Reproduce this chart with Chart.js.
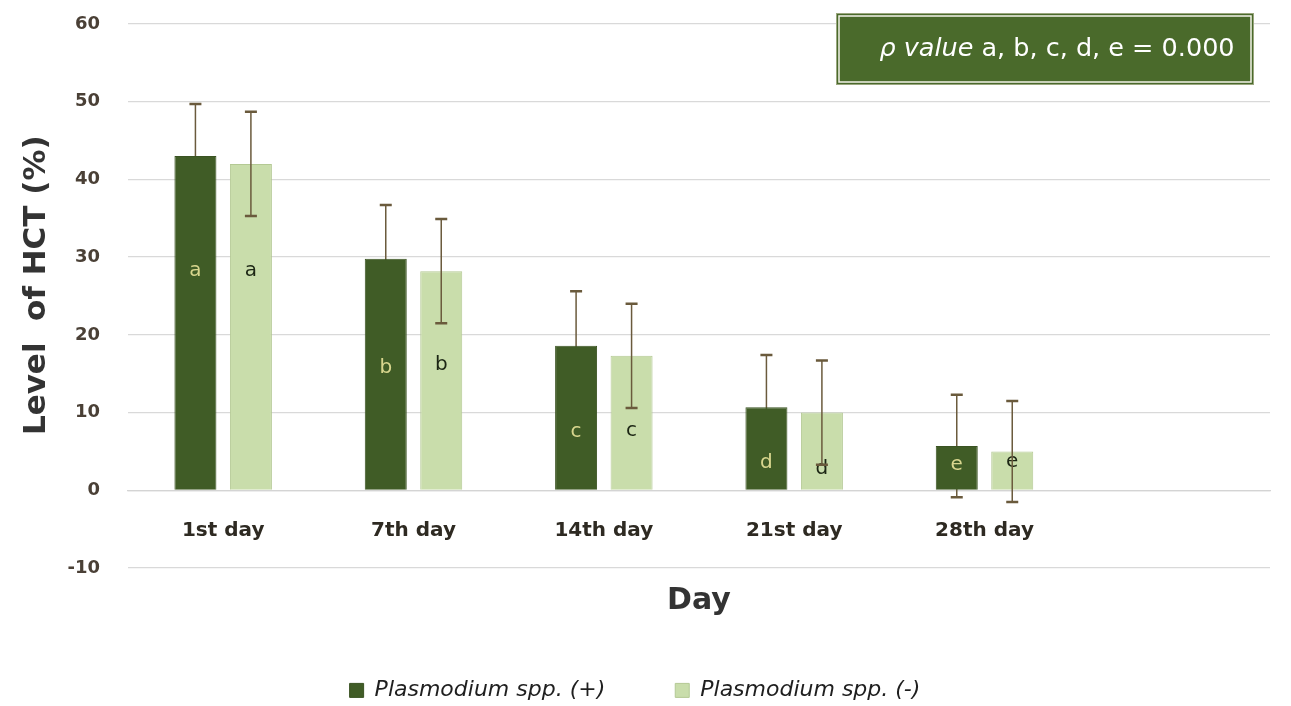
<!DOCTYPE html>
<html>
<head>
<meta charset="utf-8">
<script src="https://cdn.jsdelivr.net/npm/chart.js@4.4.1/dist/chart.umd.min.js"></script>
<style>
  html, body { margin: 0; padding: 0; background: #fff; }
  #hct { display: block; }
</style>
</head>
<body>
<canvas id="hct" width="1291" height="706"></canvas>
<script>
// categories (last one is an empty slot, as in the original plot)
const days = ['1st day', '7th day', '14th day', '21st day', '28th day', ''];

// mean HCT (%) per group
const positiveMean = [43.0, 29.8, 18.6, 10.7, 5.7];
const negativeMean = [42.0, 28.2, 17.3, 10.0, 5.0];

// standard deviation (error bars)
const positiveSD = [6.7, 6.9, 7.0, 6.7, 6.6];
const negativeSD = [6.7, 6.7, 6.7, 6.7, 6.5];

// significance letters and the value where they sit inside the bars
const letters = ['a', 'b', 'c', 'd', 'e'];
const positiveLetterAt = [28.3, 15.8, 7.5, 3.6, 3.3];
const negativeLetterAt = [28.3, 16.2, 7.7, 2.8, 3.7];

const yTicks = [-10, 0, 10, 20, 30, 40, 50, 60];

const darkGreen = '#405c26';
const lightGreen = '#c9ddab';

const ctx = document.getElementById('hct');

function drawErrorBars(chart, i, sd) {
  const c = chart.ctx;
  const y = chart.scales.y;
  const values = chart.data.datasets[i].data;
  chart.getDatasetMeta(i).data.forEach((bar, j) => {
    if (values[j] == null) return;
    const top = y.getPixelForValue(values[j] + sd[j]);
    const bot = y.getPixelForValue(values[j] - sd[j]);
    c.save();
    c.strokeStyle = '#6a5a3c';
    c.lineWidth = 1.5;
    c.beginPath();
    c.moveTo(bar.x, top);
    c.lineTo(bar.x, bot);
    c.stroke();
    c.lineWidth = 2.5;
    c.beginPath();
    c.moveTo(bar.x - 6, top); c.lineTo(bar.x + 6, top);
    c.moveTo(bar.x - 6, bot); c.lineTo(bar.x + 6, bot);
    c.stroke();
    c.restore();
  });
}

function drawLetters(chart, i, at, color) {
  const c = chart.ctx;
  const y = chart.scales.y;
  const values = chart.data.datasets[i].data;
  chart.getDatasetMeta(i).data.forEach((bar, j) => {
    if (values[j] == null) return;
    c.save();
    c.font = '20px "DejaVu Sans"';
    c.fillStyle = color;
    c.textAlign = 'center';
    c.textBaseline = 'middle';
    c.fillText(letters[j], bar.x, y.getPixelForValue(at[j]));
    c.restore();
  });
}

// error bars of the dark series sit behind the bars, the light ones on top
const barExtras = {
  id: 'barExtras',
  beforeDatasetsDraw(chart) {
    drawErrorBars(chart, 0, positiveSD);
  },
  afterDatasetsDraw(chart) {
    drawLetters(chart, 0, positiveLetterAt, '#d8d68e');
    drawLetters(chart, 1, negativeLetterAt, '#1c2614');
    drawErrorBars(chart, 1, negativeSD);
  }
};

// the p value box in the upper right
const pBox = {
  id: 'pBox',
  afterDraw(chart) {
    const c = chart.ctx;
    const x = 836, yy = 13, w = 418, h = 72;
    c.save();
    c.fillStyle = '#4a6a2b';
    c.fillRect(x, yy, w, h);
    c.strokeStyle = '#9aa67e';
    c.lineWidth = 1;
    c.strokeRect(x + 0.5, yy + 0.5, w - 1, h - 1);
    c.strokeStyle = '#f4f4ea';
    c.lineWidth = 1.5;
    c.strokeRect(x + 3, yy + 3, w - 6, h - 6);

    const italic = 'italic 25.5px "DejaVu Sans"';
    const normal = '25.5px "DejaVu Sans"';
    const t1 = 'ρ value';
    const t2 = ' a, b, c, d, e = 0.000';
    c.font = italic;
    const w1 = c.measureText(t1).width;
    c.font = normal;
    const w2 = c.measureText(t2).width;
    const sx = x + w / 2 + 12 - (w1 + w2) / 2;
    c.fillStyle = '#ffffff';
    c.textBaseline = 'middle';
    c.textAlign = 'left';
    c.font = italic;
    c.fillText(t1, sx, yy + h / 2);
    c.font = normal;
    c.fillText(t2, sx + w1, yy + h / 2);
    c.restore();
  }
};

new Chart(ctx, {
  type: 'bar',
  data: {
    labels: days,
    datasets: [
      {
        label: 'Plasmodium spp. (+)',
        data: positiveMean,
        backgroundColor: darkGreen,
        borderColor: '#3a5322',
        borderWidth: 1
      },
      {
        label: 'Plasmodium spp. (-)',
        data: negativeMean,
        backgroundColor: lightGreen,
        borderColor: '#b4c994',
        borderWidth: 1
      }
    ]
  },
  options: {
    responsive: false,
    animation: false,
    categoryPercentage: 0.583,
    barPercentage: 0.757,
    layout: {
      padding: { top: 24, right: 21, left: 0, bottom: 0 }
    },
    scales: {
      x: {
        position: { y: 0 },
        grid: { display: false, drawTicks: false },
        border: { color: '#d4d4d4', width: 1.3 },
        ticks: {
          padding: 29,
          color: '#2e2a22',
          font: { family: '"DejaVu Sans"', size: 20, weight: 'bold' }
        },
        title: {
          display: true,
          text: 'Day',
          color: '#333333',
          padding: { top: 11, bottom: 0 },
          font: { family: '"DejaVu Sans"', size: 30, weight: 'bold' }
        }
      },
      y: {
        min: -10,
        max: 60,
        afterFit(scale) { scale.width = 128; },
        afterBuildTicks(scale) { scale.ticks = yTicks.map(v => ({ value: v })); },
        grid: {
          color: '#d9d9d9',
          lineWidth: 1.3,
          drawTicks: true,
          tickLength: 25,
          tickColor: 'rgba(0,0,0,0)'
        },
        border: { display: false },
        ticks: {
          padding: 3,
          color: '#4a4036',
          font: { family: '"DejaVu Sans"', size: 18, weight: 'bold' }
        },
        title: {
          display: true,
          text: '  Level  of HCT (%)',
          color: '#333333',
          padding: { top: 18, bottom: 0 },
          font: { family: '"DejaVu Sans"', size: 31, weight: 'bold' }
        }
      }
    },
    plugins: {
      legend: {
        position: 'bottom',
        maxHeight: 138,
        title: {
          display: true,
          text: ' ',
          padding: { top: 27, bottom: 0 },
          font: { size: 12 }
        },
        labels: {
          boxWidth: 14,
          boxHeight: 14,
          padding: 70,
          color: '#1f1f1f',
          font: { family: '"DejaVu Sans"', size: 22, style: 'italic' }
        }
      },
      tooltip: { enabled: false }
    }
  },
  plugins: [barExtras, pBox]
});
</script>
</body>
</html>
